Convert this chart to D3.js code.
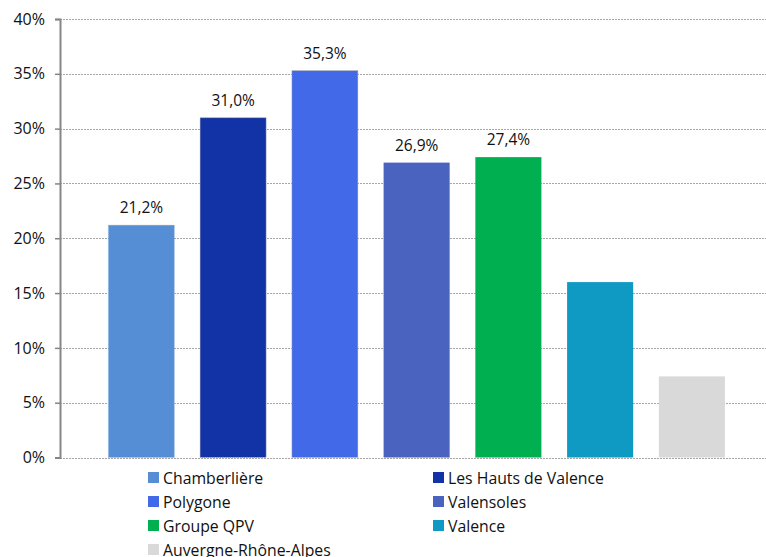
<!DOCTYPE html>
<html><head><meta charset="utf-8">
<script src="https://cdn.jsdelivr.net/npm/d3@7"></script>
<style>body{margin:0;background:#fff}svg{display:block}text{font-family:"Open Sans","Liberation Sans",sans-serif;fill:#111}</style>
</head><body><svg id="c" width="766" height="557"></svg>
<script>
const categories = ["Chamberlière","Les Hauts de Valence","Polygone","Valensoles","Groupe QPV","Valence","Auvergne-Rhône-Alpes"];
const values = [21.2, 31.0, 35.3, 26.9, 27.4, 16.0, 7.4];
const colors = ["#558ED5","#1133A6","#4169E8","#4A63BF","#00B050","#0E9AC3","#D9D9D9"];
const showLabel = [true,true,true,true,true,false,false];
const yTicks = [0,5,10,15,20,25,30,35,40];

const svg = d3.select("#c");
const axisX = 60, plotTop = 19, plotBottom = 457.5;
const x = d3.scaleBand().domain(categories).range([95.5, 95.5 + 7*91.75]).paddingInner(0.28).paddingOuter(0.14);
const y = d3.scaleLinear().domain([0,40]).range([plotBottom, plotTop]);

// gridlines
svg.append("g").selectAll("line").data(yTicks).join("line")
  .attr("x1", axisX).attr("x2", 766)
  .attr("y1", d => Math.round(y(d))+0.5).attr("y2", d => Math.round(y(d))+0.5)
  .attr("stroke", "#a6a6a6").attr("stroke-width", 1).attr("stroke-dasharray", "2,1");

// bars
svg.append("g").selectAll("rect").data(categories).join("rect")
  .attr("x", d => x(d)).attr("width", x.bandwidth())
  .attr("y", (d,i) => y(values[i])).attr("height", (d,i) => plotBottom - y(values[i]))
  .attr("fill", (d,i) => colors[i])
  .attr("stroke", (d,i) => i < 3 ? "#bfbfbf" : "none").attr("stroke-dasharray","1,1").attr("stroke-width", 0.8);

// value labels
svg.append("g").selectAll("text").data(categories.filter((d,i)=>showLabel[i])).join("text")
  .attr("x", d => x(d) + x.bandwidth()/2)
  .attr("y", d => y(values[categories.indexOf(d)]) - 12)
  .attr("text-anchor","middle").attr("font-size","15.5px")
  .text(d => values[categories.indexOf(d)].toFixed(1).replace(".", ",") + "%");

// y axis
const yAxis = d3.axisLeft(y).tickValues(yTicks).tickSize(5).tickPadding(10).tickFormat(d => d + "%");
const ga = svg.append("g").attr("transform", `translate(${axisX},0)`).call(yAxis);
ga.select(".domain").attr("stroke","#868686").attr("stroke-width",2);
ga.selectAll(".tick line").attr("stroke","#868686").attr("stroke-width",1.5);
ga.selectAll(".tick text").attr("font-size","16px").style("font-family","'Open Sans','Liberation Sans',sans-serif").attr("fill","#111");

// legend
const legPos = [[148,478],[433,478],[148,502],[433,502],[148,526],[433,526],[148,550]];
const lg = svg.append("g").selectAll("g").data(categories).join("g")
  .attr("transform", (d,i) => `translate(${legPos[i][0]},${legPos[i][1]})`);
lg.append("rect").attr("x",0).attr("y",-6).attr("width",11).attr("height",11)
  .attr("fill",(d,i)=>colors[i]);
lg.append("text").attr("x",15).attr("y",0).attr("dy","0.35em").attr("font-size","15.8px").text(d=>d);
</script></body></html>
